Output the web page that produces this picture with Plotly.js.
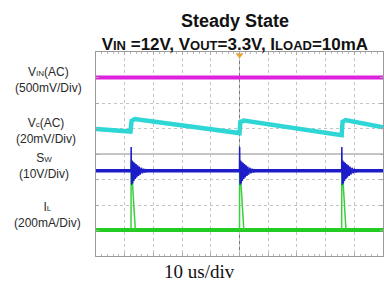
<!DOCTYPE html>
<html>
<head>
<meta charset="utf-8">
<script src="https://cdn.plot.ly/plotly-3.0.1.min.js"></script>
<style>html,body{margin:0;padding:0;background:#fff;}#chart{width:384px;height:289px;}</style>
</head>
<body>
<div id="chart"></div>
<script>
// ---- data (time in us, levels in screen divisions, centre = 0) ----
const vinTime = [0, 100];
const vinLevel = [3.0, 3.0];

const vcTime  = [0, 12.0, 12.4, 13.5, 50.0, 50.3, 51.5, 85.6, 85.9, 87.0, 100];
const vcLevel = [0.98, 0.88, 1.30, 1.37, 0.82, 1.25, 1.31, 0.74, 1.26, 1.33, 1.05];

const switchTimes = [12.2, 50.0, 85.6];
const swBaseline = -0.66;
const swRingDt = [0, 0.05, 0.2, 0.4, 0.6, 0.8, 1.0, 1.25, 1.5, 1.75, 2.0, 2.3, 2.6, 2.9, 3.2, 3.6, 4.0, 4.4, 4.9, 5.4, 6.0];
const swRingDv = [0, 0.93, -0.55, 0.40, -0.50, 0.36, -0.40, 0.32, -0.32, 0.27, -0.26, 0.22, -0.20, 0.17, -0.15, 0.12, -0.10, 0.08, -0.06, 0.04, 0];

const ilBaseline = -2.98;
const ilPulseDt = [0, 0.05, 1.5];
const ilPulseDv = [0, 2.7, 0];

const triggerTime = [50];

const channelLabels = [
  "V<span style='font-size:8px'>IN</span>(AC)<br>(500mV/Div)",
  "V<span style='font-size:8px'>c</span>(AC)<br>(20mV/Div)",
  "S<span style='font-size:8px'>W</span><br>(10V/Div)",
  "I<span style='font-size:8px'>L</span><br>(200mA/Div)"
];
const labelLevels = [2.9, 0.9, -0.47, -2.39];
const labelX = [-0.165, -0.175, -0.18, -0.17];

const titleText = "<span style='font-size:18px'><b>Steady State</b></span><br><b>V<span style='font-size:13px'>IN</span> =12V, V<span style='font-size:13px'>OUT</span>=3.3V, I<span style='font-size:13px'>LOAD</span>=10mA</b>";
const timebaseText = "10 us/div";

// ---- build series from the pieces above ----
function pulses(base, times, dts, dvs) {
  const xs = [], ys = [];
  times.forEach(t => {
    dts.forEach((d, i) => { xs.push(t + d); ys.push(base + dvs[i]); });
    xs.push(null); ys.push(null);
  });
  return {x: xs, y: ys};
}
const sw = pulses(swBaseline, switchTimes, swRingDt, swRingDv);
const il = pulses(ilBaseline, switchTimes, ilPulseDt, ilPulseDv);

const traces = [
  {x: vinTime, y: vinLevel, mode: 'lines', line: {color: '#dc22dc', width: 4}, hoverinfo: 'skip'},
  {x: vcTime, y: vcLevel, mode: 'lines', line: {color: '#2fd6d6', width: 4.5}, hoverinfo: 'skip'},
  {x: [0, 100], y: [ilBaseline, ilBaseline], mode: 'lines', line: {color: '#22cc22', width: 4}, hoverinfo: 'skip'},
  {x: il.x, y: il.y, mode: 'lines', connectgaps: false, line: {color: '#3ccf3c', width: 1.5}, hoverinfo: 'skip'},
  {x: [0, 100], y: [swBaseline, swBaseline], mode: 'lines', line: {color: '#1c1cc8', width: 3.5}, hoverinfo: 'skip'},
  {x: sw.x, y: sw.y, mode: 'lines', connectgaps: false, line: {color: '#1c1cc8', width: 1.5}, hoverinfo: 'skip'},
  {x: triggerTime, y: [3.88], mode: 'markers', marker: {symbol: 'triangle-down', size: 7, color: '#f0a030'}, cliponaxis: false, hoverinfo: 'skip'}
];

const annotations = channelLabels.map((t, i) => ({
  text: t, xref: 'paper', yref: 'y', x: labelX[i], y: labelLevels[i],
  xanchor: 'center', yanchor: 'middle', showarrow: false, align: 'center',
  font: {family: 'Liberation Sans, Arial, sans-serif', size: 12, color: '#2a2a2a'}
}));
annotations.push({
  text: timebaseText, xref: 'paper', yref: 'paper', x: 0.362, y: -0.075,
  xanchor: 'center', yanchor: 'middle', showarrow: false,
  font: {family: 'Liberation Serif, Times New Roman, serif', size: 19, color: '#111'}
});

const layout = {
  width: 384, height: 289,
  margin: {l: 96, r: 1, t: 52, b: 33},
  paper_bgcolor: '#fff', plot_bgcolor: '#fff',
  showlegend: false,
  title: {
    text: titleText, x: 0.484, xref: 'paper', xanchor: 'center',
    y: 0.905, yref: 'container', yanchor: 'middle',
    font: {family: 'Liberation Sans, Arial, sans-serif', size: 17, color: '#111'}
  },
  xaxis: {
    range: [0, 100], dtick: 10, showticklabels: false, zeroline: false,
    showgrid: true, gridcolor: '#c4c4c4', griddash: 'dot', gridwidth: 1,
    showline: true, linecolor: '#9a9a9a', linewidth: 1, mirror: 'allticks',
    ticks: 'inside', ticklen: 3, tickcolor: '#aaa',
    minor: {dtick: 2, ticks: 'inside', ticklen: 2, tickcolor: '#bbb', showgrid: false},
    fixedrange: true
  },
  yaxis: {
    range: [-4, 4], dtick: 1, showticklabels: false, zeroline: false,
    showgrid: true, gridcolor: '#c4c4c4', griddash: 'dot', gridwidth: 1,
    showline: true, linecolor: '#9a9a9a', linewidth: 1, mirror: 'allticks',
    ticks: 'inside', ticklen: 3, tickcolor: '#aaa',
    fixedrange: true
  },
  shapes: [
    {type: 'line', xref: 'paper', yref: 'y', x0: 0, x1: 1, y0: 0, y1: 0, line: {color: '#8a8a8a', width: 1}, layer: 'below'},
    {type: 'line', xref: 'x', yref: 'paper', x0: 50, x1: 50, y0: 0, y1: 1, line: {color: '#7a7a7a', width: 1, dash: 'dot'}, layer: 'below'}
  ],
  annotations: annotations
};

Plotly.newPlot('chart', traces, layout, {staticPlot: true, displayModeBar: false});
</script>
</body>
</html>
